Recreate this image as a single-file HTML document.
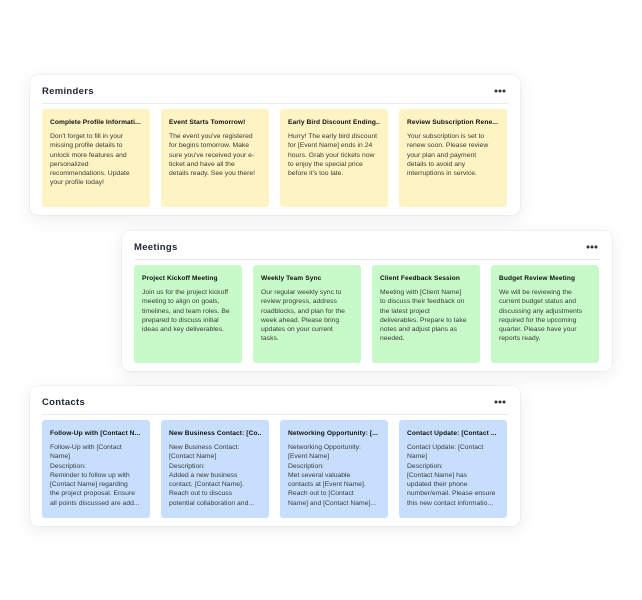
<!DOCTYPE html>
<html><head><meta charset="utf-8"><style>
body{margin:0;width:642px;height:600px;background:#fff;position:relative;overflow:hidden;font-family:"Liberation Sans",sans-serif;}
.p{position:absolute;width:490px;height:140px;background:#fff;border-radius:8px;box-shadow:0 4px 18px rgba(0,0,0,0.08),0 0 0 1px rgba(0,0,0,0.03);}
.t{position:absolute;left:12px;top:11px;font-size:9.5px;font-weight:bold;color:#1d2433;letter-spacing:0.3px}
.d{position:absolute;right:14px;top:14px;width:12px;height:4px}
.hr{position:absolute;left:12px;right:12px;top:28px;height:1px;background:#ebebeb}
.c{position:absolute;top:34px;width:108px;height:98px;border-radius:3px;box-sizing:border-box;padding:10px 8px 0 8px;color:#333;}
.c b{display:block;font-size:6.6px;color:#111;margin-bottom:6px;white-space:nowrap;overflow:hidden;letter-spacing:0.1px}
.c div{font-size:6.8px;line-height:9.3px;color:#3a3a3a;white-space:nowrap}
.y{background:#fdf3c3}.g{background:#c8f9c8}.bl{background:#c7dffc}
</style></head><body>

<div class="p" style="left:30px;top:75px">
<div class="t">Reminders</div><svg class="d" viewBox="0 0 12 4"><circle cx="2" cy="2" r="1.5" fill="#333"/><circle cx="6" cy="2" r="1.5" fill="#333"/><circle cx="10" cy="2" r="1.5" fill="#333"/></svg><div class="hr"></div>
<div class="c y" style="left:12px"><b>Complete Profile Informati...</b><div>Don't forget to fill in your<br>missing profile details to<br>unlock more features and<br>personalized<br>recommendations. Update<br>your profile today!</div></div>
<div class="c y" style="left:131px"><b>Event Starts Tomorrow!</b><div>The event you've registered<br>for begins tomorrow. Make<br>sure you've received your e-<br>ticket and have all the<br>details ready. See you there!</div></div>
<div class="c y" style="left:250px"><b>Early Bird Discount Ending...</b><div>Hurry! The early bird discount<br>for [Event Name] ends in 24<br>hours. Grab your tickets now<br>to enjoy the special price<br>before it's too late.</div></div>
<div class="c y" style="left:369px"><b>Review Subscription Rene...</b><div>Your subscription is set to<br>renew soon. Please review<br>your plan and payment<br>details to avoid any<br>interruptions in service.</div></div>
</div>

<div class="p" style="left:122px;top:231px">
<div class="t">Meetings</div><svg class="d" viewBox="0 0 12 4"><circle cx="2" cy="2" r="1.5" fill="#333"/><circle cx="6" cy="2" r="1.5" fill="#333"/><circle cx="10" cy="2" r="1.5" fill="#333"/></svg><div class="hr"></div>
<div class="c g" style="left:12px"><b>Project Kickoff Meeting</b><div>Join us for the project kickoff<br>meeting to align on goals,<br>timelines, and team roles. Be<br>prepared to discuss initial<br>ideas and key deliverables.</div></div>
<div class="c g" style="left:131px"><b>Weekly Team Sync</b><div>Our regular weekly sync to<br>review progress, address<br>roadblocks, and plan for the<br>week ahead. Please bring<br>updates on your current<br>tasks.</div></div>
<div class="c g" style="left:250px"><b>Client Feedback Session</b><div>Meeting with [Client Name]<br>to discuss their feedback on<br>the latest project<br>deliverables. Prepare to take<br>notes and adjust plans as<br>needed.</div></div>
<div class="c g" style="left:369px"><b>Budget Review Meeting</b><div>We will be reviewing the<br>current budget status and<br>discussing any adjustments<br>required for the upcoming<br>quarter. Please have your<br>reports ready.</div></div>
</div>

<div class="p" style="left:30px;top:386px">
<div class="t">Contacts</div><svg class="d" viewBox="0 0 12 4"><circle cx="2" cy="2" r="1.5" fill="#333"/><circle cx="6" cy="2" r="1.5" fill="#333"/><circle cx="10" cy="2" r="1.5" fill="#333"/></svg><div class="hr"></div>
<div class="c bl" style="left:12px"><b>Follow-Up with [Contact N...</b><div>Follow-Up with [Contact<br>Name]<br>Description:<br>Reminder to follow up with<br>[Contact Name] regarding<br>the project proposal. Ensure<br>all points discussed are add...</div></div>
<div class="c bl" style="left:131px"><b>New Business Contact: [Co...</b><div>New Business Contact:<br>[Contact Name]<br>Description:<br>Added a new business<br>contact, [Contact Name].<br>Reach out to discuss<br>potential collaboration and...</div></div>
<div class="c bl" style="left:250px"><b>Networking Opportunity: [...</b><div>Networking Opportunity:<br>[Event Name]<br>Description:<br>Met several valuable<br>contacts at [Event Name].<br>Reach out to [Contact<br>Name] and [Contact Name]...</div></div>
<div class="c bl" style="left:369px"><b>Contact Update: [Contact ...</b><div>Contact Update: [Contact<br>Name]<br>Description:<br>[Contact Name] has<br>updated their phone<br>number/email. Please ensure<br>this new contact informatio...</div></div>
</div>

</body></html>
